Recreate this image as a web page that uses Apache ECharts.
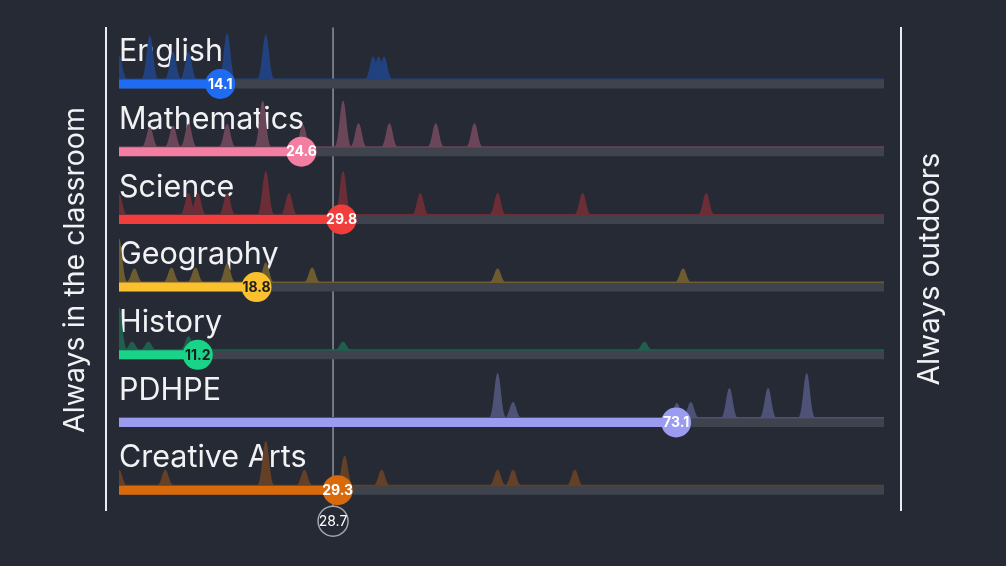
<!DOCTYPE html>
<html>
<head>
	<meta charset="utf-8">
	<title></title>
	<script src="https://cdn.jsdelivr.net/npm/echarts@6/dist/echarts.min.js"></script>
	<style>
		html,body{margin:0;padding:0;background:#252a35;}
		#chart{width:1006px;height:566px;}
	</style>
</head>
<body>
	<div id="chart"></div>
<script type="text/javascript">
	// values
	var subjects = ['English', 'Mathematics', 'Science', 'Geography', 'History', 'PDHPE', 'Creative Arts'];
	var scores = [14.1, 24.6, 29.8, 18.8, 11.2, 73.1, 29.3];
	var meanScore = 28.7;

	// peaks of the response spread: [score, relative height]
	var englishPeaks = [[1, 0.48], [5, 0.88], [8, 0.55], [10, 0.55], [15, 0.92], [20, 0.9], [33.9, 0.46], [34.6, 0.46], [35.3, 0.46]];
	var mathsPeaks = [[5, 0.4], [8, 0.43], [10, 0.47], [15, 0.47], [19.6, 0.93], [24.8, 0.45], [30, 0.93], [32, 0.48], [36, 0.48], [42, 0.48], [47, 0.48]];
	var sciencePeaks = [[1, 0.42], [10, 0.44], [11.2, 0.44], [15, 0.44], [20, 0.88], [23, 0.44], [30, 0.88], [40, 0.44], [50, 0.44], [61, 0.44], [77, 0.44]];
	var geographyPeaks = [[1, 0.88], [3, 0.28], [7.8, 0.3], [10.9, 0.3], [15, 0.38], [20, 0.4], [26, 0.3], [50, 0.28], [74, 0.28]];
	var historyPeaks = [[1, 0.86], [2.7, 0.17], [4.8, 0.17], [10, 0.28], [30, 0.17], [69, 0.17]];
	var pdhpePeaks = [[50, 0.9], [52, 0.32], [73.2, 0.3], [75, 0.32], [80, 0.6], [85, 0.6], [90, 0.9]];
	var artsPeaks = [[1, 0.32], [7, 0.32], [20, 0.9], [25, 0.32], [30.2, 0.6], [35, 0.32], [50, 0.32], [52, 0.32], [60, 0.32]];
	var allPeaks = [englishPeaks, mathsPeaks, sciencePeaks, geographyPeaks, historyPeaks, pdhpePeaks, artsPeaks];

	// look
	var brightColors = ['#1f6cf2', '#f47ea1', '#f23d3d', '#fbc02d', '#19d389', '#9b9cf0', '#d96a0c'];
	var dimColors = ['#21427e', '#6b4659', '#6c2e36', '#6e5c31', '#205f4e', '#4e5276', '#644027'];
	var labelColors = ['#fff', '#fff', '#fff', '#1b1b1b', '#1b1b1b', '#fff', '#fff'];
	var FONT = 'Inter, "Noto Sans", sans-serif';
	var BASE0 = 79.5, GAP = 67.7, PEAK_H = 50, TRACK_H = 9, PEAK_HALF = 1.15;

	var myChart = echarts.init(document.getElementById('chart'));

	var grids = [], xAxes = [], yAxes = [], series = [], graphics = [];
	subjects.forEach(function(name, i){
		var base = BASE0 + GAP * i;
		grids.push({left: 119, width: 765, top: base - PEAK_H, height: PEAK_H});
		xAxes.push({gridIndex: i, type: 'value', min: 1, max: 100, show: false});
		yAxes.push({gridIndex: i, type: 'value', min: 0, max: 1, show: false});

		series.push({
			type: 'custom', name: name + ' spread', xAxisIndex: i, yAxisIndex: i, clip: true,
			silent: true, z: 1,
			data: allPeaks[i],
			renderItem: function(params, api){
				var b = api.coord([api.value(0), 0]);
				var t = api.coord([api.value(0), api.value(1)]);
				var w = api.size([PEAK_HALF, 0])[0];
				var x = b[0], y0 = b[1], y1 = t[1];
				var d = 'M' + (x - w) + ' ' + y0 +
					' C' + (x - w * 0.45) + ' ' + y0 + ' ' + (x - w * 0.35) + ' ' + y1 + ' ' + x + ' ' + y1 +
					' C' + (x + w * 0.35) + ' ' + y1 + ' ' + (x + w * 0.45) + ' ' + y0 + ' ' + (x + w) + ' ' + y0 + ' Z';
				return {type: 'path', shape: {pathData: d}, style: {fill: dimColors[i]}};
			}
		});

		series.push({
			type: 'custom', name: name, xAxisIndex: i, yAxisIndex: i, clip: false,
			silent: true, z: 3,
			data: [[scores[i], 0]],
			renderItem: function(params, api){
				var p = api.coord([api.value(0), 0]);
				var x0 = api.coord([1, 0])[0], x1 = api.coord([100, 0])[0];
				var cy = p[1] + TRACK_H / 2;
				return {type: 'group', children: [
					{type: 'rect', shape: {x: x0, y: p[1], width: x1 - x0, height: TRACK_H}, style: {fill: '#3e434d'}},
					{type: 'rect', shape: {x: x0, y: p[1] - 1, width: x1 - x0, height: 1.5}, style: {fill: dimColors[i]}},
					{type: 'rect', shape: {x: x0, y: p[1], width: p[0] - x0, height: TRACK_H}, style: {fill: brightColors[i]}},
					{type: 'circle', shape: {cx: p[0], cy: cy, r: 15}, style: {fill: brightColors[i]}},
					{type: 'text', x: p[0], y: cy + 0.5, style: {
						text: api.value(0).toFixed(1), fill: labelColors[i],
						font: 'bold 14px ' + FONT, align: 'center', verticalAlign: 'middle'
					}}
				]};
			}
		});

		graphics.push({
			type: 'text', left: 119, top: base - 43,
			style: {text: name, fill: '#f2f2f4', font: '30.5px ' + FONT}
		});
	});

	// mean line with its bubble
	series.push({
		type: 'custom', name: 'mean', xAxisIndex: 6, yAxisIndex: 6, clip: false,
		silent: true, z: 2,
		data: [[meanScore, 0]],
		renderItem: function(params, api){
			var p = api.coord([api.value(0), 0]);
			var cy = p[1] + 35.5;
			var yTop = BASE0 - 52;
			return {type: 'group', children: [
				{type: 'line', shape: {x1: p[0], y1: yTop, x2: p[0], y2: cy - 15}, style: {stroke: '#8d929b', lineWidth: 1.5}},
				{type: 'circle', shape: {cx: p[0], cy: cy, r: 15}, style: {fill: '#252a35', stroke: '#a3a7ae', lineWidth: 1.5}},
				{type: 'text', x: p[0], y: cy + 0.5, style: {
					text: api.value(0).toFixed(1), fill: '#fff',
					font: '14px ' + FONT, align: 'center', verticalAlign: 'middle'
				}}
			]};
		}
	});

	graphics.push(
		{type: 'line', shape: {x1: 106, y1: 27, x2: 106, y2: 511}, style: {stroke: '#ececf0', lineWidth: 2}},
		{type: 'line', shape: {x1: 901, y1: 27, x2: 901, y2: 511}, style: {stroke: '#ececf0', lineWidth: 2}},
		{type: 'text', x: 75, y: 270, rotation: Math.PI / 2,
			style: {text: 'Always in the classroom', fill: '#f2f2f4', font: '28.5px ' + FONT, align: 'center', verticalAlign: 'middle'}},
		{type: 'text', x: 930, y: 269, rotation: Math.PI / 2,
			style: {text: 'Always outdoors', fill: '#f2f2f4', font: '29.5px ' + FONT, align: 'center', verticalAlign: 'middle'}}
	);

	var option = {
		backgroundColor: '#252a35',
		animation: false,
		grid: grids,
		xAxis: xAxes,
		yAxis: yAxes,
		graphic: graphics,
		series: series
	};
	myChart.setOption(option);

	window.addEventListener('resize', ()=>{
		myChart.resize();
	});
</script>
</body>
</html>
